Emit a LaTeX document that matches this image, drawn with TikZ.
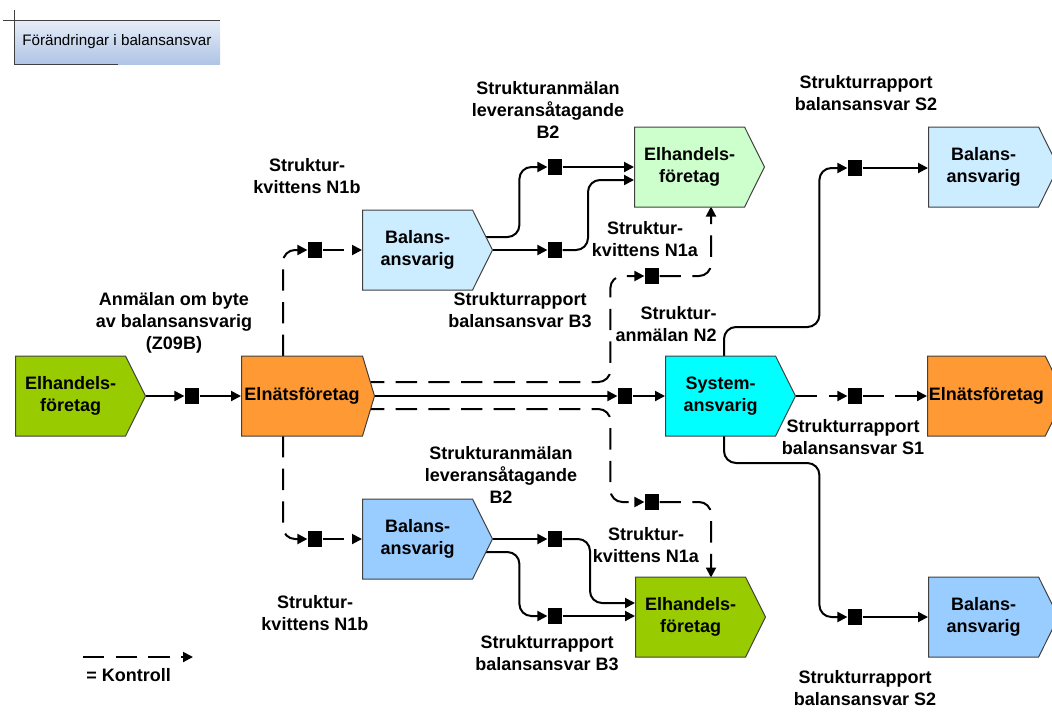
\documentclass[tikz,border=0pt]{standalone}
\usepackage{fontspec}
\setmainfont{Liberation Sans}
\usetikzlibrary{shapes.symbols,arrows.meta,calc}
\pgfdeclarelayer{background}
\pgfsetlayers{background,main}
\definecolor{cgreen}{HTML}{99CC00}
\definecolor{corange}{HTML}{FF9933}
\definecolor{clblue}{HTML}{CCECFF}
\definecolor{cblue}{HTML}{99CCFF}
\definecolor{clgreen}{HTML}{CCFFCC}
\definecolor{ccyan}{HTML}{00FFFF}
\definecolor{cborder}{HTML}{404040}
\definecolor{hdrtop}{HTML}{E6EDF7}
\definecolor{hdrbot}{HTML}{B0C4E6}
\newcommand\procfont{\fontsize{13.5}{16.5}\selectfont\bfseries}
\tikzset{
 proc/.style={signal, signal to=east, draw=cborder, line width=0.75pt,
   minimum height=60pt, minimum width=97.5pt, signal pointer angle=127,
   inner sep=1pt, align=center, font=\procfont, anchor=west},
 sq/.style={fill=black, inner sep=0pt, minimum width=11pt, minimum height=11.5pt},
 conn/.style={line width=1.5pt, -{Triangle[length=7.5pt,width=7.5pt]}, rounded corners=9pt},
 ctrl/.style={conn, dash pattern=on 16pt off 8.5pt},
 lbl/.style={align=center, font=\procfont, inner sep=0pt},
}
\begin{document}
\begin{tikzpicture}[x=0.75pt,y=-0.75pt]
\useasboundingbox (0,0) rectangle (1052,711);
% header
\fill[top color=hdrtop, bottom color=hdrbot] (14,20) rectangle (220,64);
\draw[cborder, line width=0.75pt] (3,20) -- (220,20);
\draw[cborder, line width=0.75pt] (14,10) -- (14,64) -- (118,64);
\node[anchor=west, inner sep=0pt, font=\fontsize{11.4}{13}\selectfont] (hdr) at (22,42) {Förändringar i balansansvar};
% process nodes
\node[proc, fill=cgreen] (eh1) at (15,396) {Elhandels-\\företag};
\node[proc, fill=corange, minimum width=99.75pt, signal pointer angle=146.6] (en1) at (241,396) {Elnätsföretag};
\node[proc, fill=clblue] (ba1) at (362,250) {Balans-\\ansvarig};
\node[proc, fill=clgreen] (eh2) at (634,167) {Elhandels-\\företag};
\node[proc, fill=ccyan] (sa) at (665,396) {System-\\ansvarig};
\node[proc, fill=clblue] (ba2) at (928,167) {Balans-\\ansvarig};
\node[proc, fill=corange] (en2) at (927,396) {Elnätsföretag};
\node[proc, fill=cblue] (ba3) at (362,539) {Balans-\\ansvarig};
\node[proc, fill=cgreen] (eh3) at (635,617) {Elhandels-\\företag};
\node[proc, fill=cblue] (ba4) at (928,617) {Balans-\\ansvarig};
% squares
\node[sq] (qa) at (192,396) {};
\node[sq] (qb) at (315,250) {};
\node[sq] (qc) at (315,539) {};
\node[sq] (qd) at (625,396) {};
\node[sq] (qe) at (652,276) {};
\node[sq] (qf) at (652,502) {};
\node[sq] (qg) at (555,167) {};
\node[sq] (qh) at (555,250) {};
\node[sq] (qi) at (555,539) {};
\node[sq] (qj) at (555,616) {};
\node[sq] (qk) at (855,168) {};
\node[sq] (ql) at (855,396) {};
\node[sq] (qm) at (855,617) {};
% labels
\node[lbl] (l1) at (174,323) {Anmälan om byte\\av balansansvarig\\(Z09B)};
\node[lbl] (l2) at (307,176) {Struktur-\\kvittens N1b};
\node[lbl] (l3) at (548,110) {Strukturanmälan\\leveransåtagande\\B2};
\node[lbl] (l4) at (520,310) {Strukturrapport\\balansansvar B3};
\node[lbl] (l5) at (645,239) {Struktur-\\kvittens N1a};
\node[lbl, align=right, anchor=east] (l6) at (717,324.5) {Struktur-\\anmälan N2};
\node[lbl] (l7) at (866,93) {Strukturrapport\\balansansvar S2};
\node[lbl] (l8) at (853,437.5) {Strukturrapport\\balansansvar S1};
\node[lbl] (l9) at (501,474.5) {Strukturanmälan\\leveransåtagande\\B2};
\node[lbl] (l10) at (315,613) {Struktur-\\kvittens N1b};
\node[lbl] (l11) at (646,545.5) {Struktur-\\kvittens N1a};
\node[lbl] (l12) at (547,653) {Strukturrapport\\balansansvar B3};
\node[lbl] (l13) at (865,688) {Strukturrapport\\balansansvar S2};
% legend
\coordinate (lg1) at (83,657);
\coordinate (lg2) at (193,657);
\node[lbl, anchor=west] (lgt) at (86,675) {= Kontroll};
\begin{pgfonlayer}{background}
\draw[conn] (eh1.east) -- (qa.west);
\draw[conn] (qa.east) -- (en1.west);
\draw[ctrl] ($(en1.west)+(42,-40)$) |- (qb.west);
\draw[ctrl] (qb.east) -- (ba1.west);
\draw[ctrl] ($(en1.west)+(42,40)$) |- (qc.west);
\draw[ctrl] (qc.east) -- (ba3.west);
\draw[conn] (en1.east) -- (qd.west);
\draw[conn] (qd.east) -- (sa.west);
\draw[ctrl] ($(en1.east)+(-12,-14)$) -| ($(qe.west)+(-34,0)$) -- (qe.west);
\draw[ctrl] (qe.east) -| ($(eh2.west)+(77,39.5)$);
\draw[ctrl] ($(en1.east)+(-12,13)$) -| ($(qf.west)+(-34,0)$) -- (qf.west);
\draw[ctrl] (qf.east) -| ($(eh3.west)+(76,-39.5)$);
\draw[conn] ($(ba1.east)+(-10,-13)$) -| ($(qg.west)+(-28,0)$) -- (qg.west);
\draw[conn] (qg.east) -- (qg.east -| eh2.west);
\draw[conn] (ba1.east) -- (qh.west);
\draw[conn] (qh.east) -| ($(eh2.west)+(-46,13)$) -- ($(eh2.west)+(0,13)$);
\draw[conn] (ba3.east) -- (qi.west);
\draw[conn] (qi.east) -| ($(eh3.west)+(-45,-14)$) -- ($(eh3.west)+(0,-14)$);
\draw[conn] ($(ba3.east)+(-10,13)$) -| ($(qj.west)+(-28,0)$) -- (qj.west);
\draw[conn] (qj.east) -- (qj.east -| eh3.west);
\draw[conn] ($(sa.west)+(59,-40)$) -- ++(0,-29) -| ($(qk.west)+(-28,0)$) -- (qk.west);
\draw[conn] (qk.east) -- (qk.east -| ba2.west);
\draw[conn] ($(sa.west)+(59,40)$) -- ++(0,27) -| ($(qm.west)+(-28,0)$) -- (qm.west);
\draw[conn] (qm.east) -- (qm.east -| ba4.west);
\draw[ctrl] (sa.east) -- (ql.west);
\draw[ctrl] (ql.east) -- (en2.west);
\draw[ctrl] (lg1) -- (lg2);
\end{pgfonlayer}
\end{tikzpicture}
\end{document}
